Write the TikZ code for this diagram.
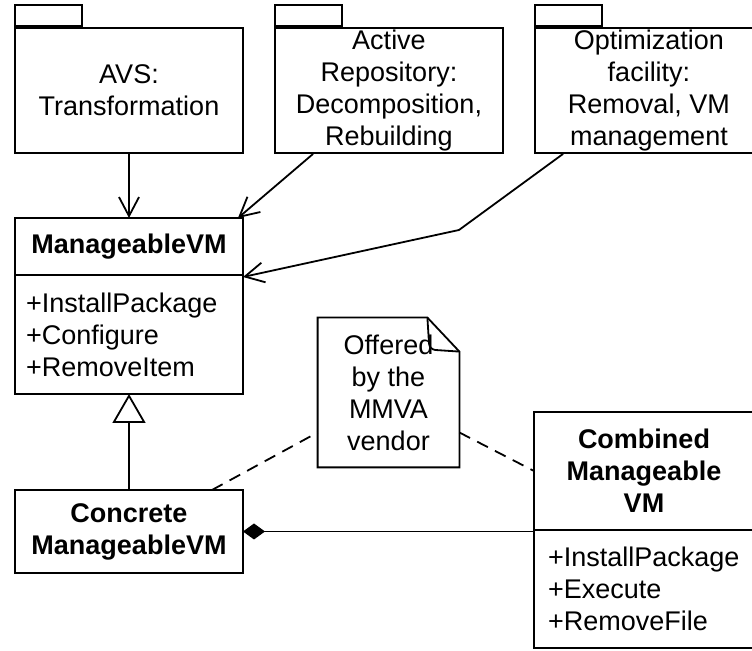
\documentclass[tikz,border=0pt]{standalone}
\usepackage{fontspec}
\setmainfont{Liberation Sans}
\usepackage{tikz}
\usetikzlibrary{arrows.meta, positioning, calc}
\newcommand{\umlfont}{\fontsize{13.5pt}{16pt}\selectfont}
\tikzset{
  pkg/.style    ={rectangle, draw, line width=0.9pt, align=center, font=\umlfont,
                  minimum width=114pt, minimum height=62.5pt, inner sep=0pt},
  pkgtab/.style ={rectangle, draw, line width=0.9pt, minimum width=33.5pt,
                  minimum height=10.5pt, inner sep=0pt, anchor=south west},
  cls/.style    ={rectangle, draw, line width=0.9pt, align=center,
                  font=\umlfont\bfseries, inner sep=0pt, outer sep=0pt},
  ops/.style    ={rectangle, draw, line width=0.9pt, align=left, font=\umlfont,
                  inner xsep=5.5pt, inner ysep=0pt, outer sep=0pt},
  notebox/.style={align=center, font=\umlfont, minimum width=70.5pt,
                  minimum height=74.5pt, inner sep=0pt},
  dep/.style    ={-{Straight Barb[length=9.5pt, width=10pt]}, line width=0.9pt},
  gen/.style    ={-{Triangle[open, length=14.5pt, width=16.5pt]}, line width=0.9pt},
  comp/.style   ={{Diamond[length=11pt, width=8pt]}-, line width=0.9pt},
  noteline/.style={line width=0.9pt, dash pattern=on 6pt off 4pt},
}

\begin{document}
\begin{tikzpicture}[x=0.5pt, y=-0.5pt]
\useasboundingbox (0,0) rectangle (752,651);
% packages
\node[pkg] (avs) at (129,90.5) {AVS:\\Transformation};
\node[pkgtab] (avstab) at (avs.north west) {};
\node[pkg] (repo) at (389,90.5) {Active\\Repository:\\Decomposition,\\Rebuilding};
\node[pkgtab] (repotab) at (repo.north west) {};
\node[pkg] (opt) at (649,90.5) {Optimization\\facility:\\Removal, VM\\management};
\node[pkgtab] (opttab) at (opt.north west) {};
% classes
\node[cls, minimum width=114pt, minimum height=28.5pt] (mvm) at (129,246.5) {ManageableVM};
\node[ops, text width=103pt, minimum height=59.5pt, below=0pt of mvm] (mvmops) {+InstallPackage\\+Configure\\+RemoveItem};
\node[cls, minimum width=114pt, minimum height=41.5pt] (conc) at (129,531.5) {Concrete\\ManageableVM};
\node[cls, minimum width=110pt, minimum height=59pt] (comb) at (644,471) {Combined\\Manageable\\VM};
\node[ops, text width=96pt, inner xsep=7pt, minimum height=59pt, below=0pt of comb] (combops) {+InstallPackage\\+Execute\\+RemoveFile};
% note
\node[notebox] (note) at (388.5,392.5) {Offered\\by the\\MMVA\\vendor};
\draw[line width=0.9pt] (note.south west) -- (note.north west) -- ([xshift=-16pt]note.north east)
  -- ([yshift=-17pt]note.north east) -- (note.south east) -- cycle;
\draw[line width=0.9pt, rounded corners=3pt] ([xshift=-16pt]note.north east)
  -- ([xshift=-15pt,yshift=-16pt]note.north east) -- ([yshift=-17pt]note.north east);
% connectors
\coordinate (bend) at (459,230);
\draw[dep] (avs) -- (mvm);
\draw[dep] ([xshift=19.5pt]repo.south west) -- ([xshift=-2.5pt]mvm.north east);
\draw[dep] ([xshift=14.5pt]opt.south west) -- (bend) -- ([yshift=-1pt]mvmops.north east);
\draw[gen] (conc) -- (mvmops);
\draw[comp] (conc.east) -- (conc.east -| comb.west);
\draw[noteline] ([xshift=-15.5pt]conc.north east) -- ([yshift=-20pt]note.west);
\draw[noteline] ([yshift=-20pt]note.east) -- (comb.west);
\end{tikzpicture}
\end{document}
